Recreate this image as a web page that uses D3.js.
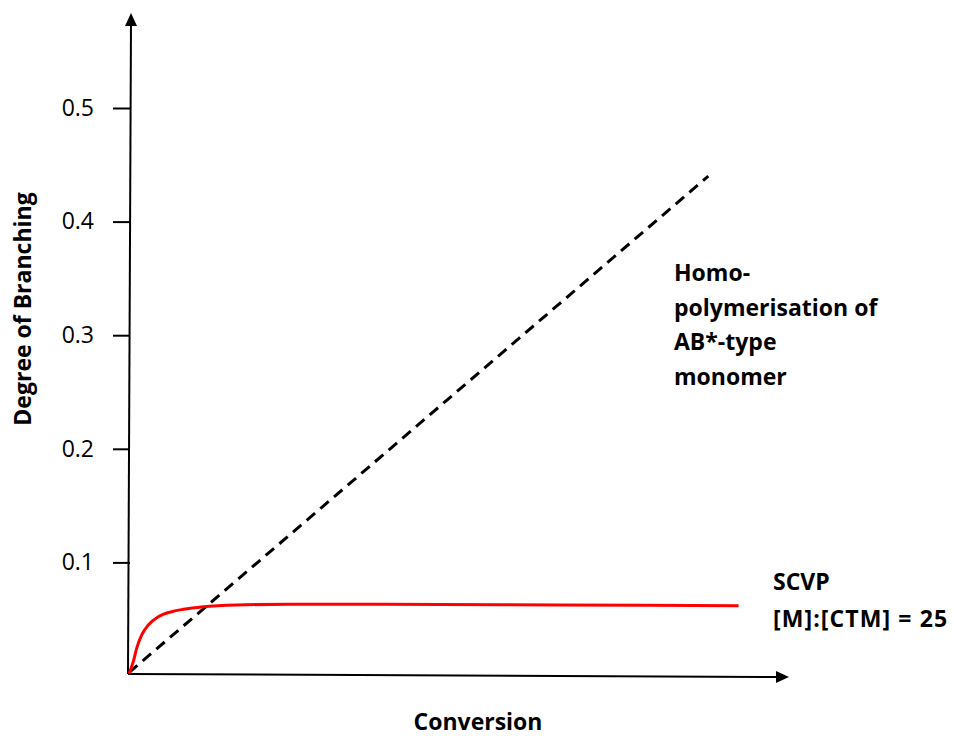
<!DOCTYPE html>
<html>
<head>
<meta charset="utf-8">
<script src="https://cdn.jsdelivr.net/npm/d3@7"></script>
<style>
  body { margin: 0; background: #fff; }
  .tick text { font-family: "Open Sans", sans-serif; font-size: 23px; fill: #000; }
  .lbl { font-family: "Open Sans", sans-serif; font-weight: bold; font-size: 23px; fill: #000; }
</style>
</head>
<body>
<svg width="954" height="736"></svg>
<script>
// y tick values shown on the axis
var yTicks = [0.1, 0.2, 0.3, 0.4, 0.5];

// SCVP [M]:[CTM] = 25 curve
var scvpConv = [0, 0.0065, 0.0116, 0.0193, 0.0293, 0.0445, 0.0648, 0.0824, 0.113, 0.163, 0.244, 0.381, 0.654, 0.925];
var scvpDB   = [0.002, 0.0126, 0.0243, 0.0361, 0.0449, 0.0522, 0.0566, 0.0587, 0.061, 0.0625, 0.0631, 0.0631, 0.0625, 0.0619];

// homopolymerisation of AB*-type monomer (straight dashed line)
var homoConv = [0, 0.879];
var homoDB   = [0.003, 0.44];

var svg = d3.select("svg");

var x = d3.scaleLinear().domain([0, 1]).range([129, 788]);
var y = d3.scaleLinear().domain([0, 0.5]).range([676, 108]);

/* axes with arrow heads */
svg.append("line")
    .attr("x1", 128).attr("y1", y(0) - 2)
    .attr("x2", 131).attr("y2", 22)
    .attr("stroke", "#000").attr("stroke-width", 2);
svg.append("path")
    .attr("d", "M131,13 L125,26 L137,26 Z")
    .attr("fill", "#000");

svg.append("line")
    .attr("x1", 128).attr("y1", y(0) - 2)
    .attr("x2", 780).attr("y2", 677)
    .attr("stroke", "#000").attr("stroke-width", 2);
svg.append("path")
    .attr("d", "M789,677 L776,671 L776,683 Z")
    .attr("fill", "#000");

var yAxis = svg.append("g")
    .attr("transform", "translate(130,0)")
    .call(d3.axisLeft(y)
        .tickValues(yTicks)
        .tickSize(17)
        .tickPadding(19)
        .tickFormat(d3.format(".1f")));
yAxis.select(".domain").remove();
yAxis.selectAll(".tick line").attr("stroke", "#000").attr("stroke-width", 2);

/* lines */
var line = d3.line()
    .x(function(d) { return x(d[0]); })
    .y(function(d) { return y(d[1]); });

svg.append("path")
    .datum(d3.zip(homoConv, homoDB))
    .attr("d", line)
    .attr("fill", "none")
    .attr("stroke", "#000")
    .attr("stroke-width", 3)
    .attr("stroke-dasharray", "11,7");

svg.append("path")
    .datum(d3.zip(scvpConv, scvpDB))
    .attr("d", line.curve(d3.curveMonotoneX))
    .attr("fill", "none")
    .attr("stroke", "#ff0000")
    .attr("stroke-width", 3);

/* labels */
svg.append("text").attr("class", "lbl")
    .attr("x", 478).attr("y", 730)
    .attr("text-anchor", "middle")
    .text("Conversion");

svg.append("text").attr("class", "lbl")
    .attr("transform", "translate(31,309) rotate(-90)")
    .attr("text-anchor", "middle")
    .text("Degree of Branching");

var homoLines = ["Homo-", "polymerisation of", "AB*-type", "monomer"];
svg.append("g").selectAll("text")
    .data(homoLines)
    .enter()
    .append("text").attr("class", "lbl")
    .attr("x", 674)
    .attr("y", function(d, i) { return 281 + i * 34.5; })
    .text(function(d) { return d; });

var scvpLines = ["SCVP", "[M]:[CTM] = 25"];
svg.append("g").selectAll("text")
    .data(scvpLines)
    .enter()
    .append("text").attr("class", "lbl")
    .attr("x", 773)
    .attr("y", function(d, i) { return 590 + i * 36.5; })
    .attr("letter-spacing", function(d, i) { return i ? "1.1px" : null; })
    .text(function(d) { return d; });
</script>
</body>
</html>
